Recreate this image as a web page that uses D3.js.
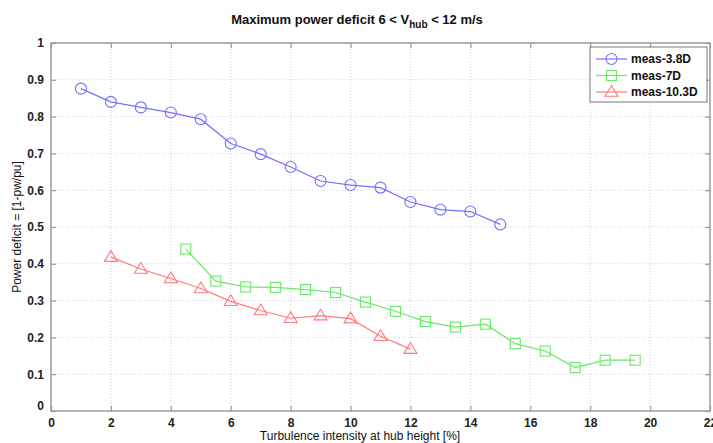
<!DOCTYPE html>
<html><head><meta charset="utf-8">
<script src="https://cdn.jsdelivr.net/npm/d3@7"></script>
<style>
body{margin:0;background:#fff;}
svg{display:block;font-family:"Liberation Sans",Arial,sans-serif;}
</style></head>
<body><svg id="c" width="713" height="443"></svg>
<script>
const xTicks = [0,2,4,6,8,10,12,14,16,18,20,22];
const yTicks = [0,0.1,0.2,0.3,0.4,0.5,0.6,0.7,0.8,0.9,1];
const yTickLabels = ["0","0.1","0.2","0.3","0.4","0.5","0.6","0.7","0.8","0.9","1"];

const x38 = [1,2,3,4,5,6,7,8,9,10,11,12,13,14,15];
const y38 = [0.876,0.840,0.825,0.811,0.793,0.727,0.698,0.663,0.625,0.614,0.607,0.568,0.547,0.542,0.507];

const x7 = [4.5,5.5,6.5,7.5,8.5,9.5,10.5,11.5,12.5,13.5,14.5,15.5,16.5,17.5,18.5,19.5];
const y7 = [0.440,0.353,0.337,0.336,0.330,0.322,0.296,0.271,0.243,0.228,0.236,0.183,0.163,0.118,0.138,0.138];

const x103 = [2,3,4,5,6,7,8,9,10,11,12];
const y103 = [0.418,0.386,0.360,0.333,0.298,0.273,0.252,0.259,0.251,0.203,0.168];

const seriesNames = ["meas-3.8D","meas-7D","meas-10.3D"];
const colors = ["#7070ff","#6ae86a","#ff7a7a"];
const markers = ["circle","square","triangle"];

const svg = d3.select("#c");
const L=51, R=710, T=43, B=411;
const x = d3.scaleLinear().domain([0,22]).range([L,R]);
const y = d3.scaleLinear().domain([0,1]).range([B,T]);

// grid
const g = svg.append("g");
g.selectAll(".gx").data(xTicks.slice(1,-1)).join("line")
  .attr("x1",d=>x(d)).attr("x2",d=>x(d)).attr("y1",T).attr("y2",B)
  .attr("stroke","#d0d0d0").attr("stroke-width",1).attr("stroke-dasharray","1,2");
g.selectAll(".gy").data(yTicks.slice(1,-1)).join("line")
  .attr("y1",d=>y(d)).attr("y2",d=>y(d)).attr("x1",L).attr("x2",R)
  .attr("stroke","#d0d0d0").attr("stroke-width",1).attr("stroke-dasharray","1,2");

// box
svg.append("rect").attr("x",L).attr("y",T).attr("width",R-L).attr("height",B-T)
  .attr("fill","none").attr("stroke","#9a9a9a").attr("stroke-width",1.5);

// axes with inward ticks
const xa = svg.append("g").attr("transform",`translate(0,${B})`)
  .call(d3.axisBottom(x).tickValues(xTicks).tickSizeInner(-5).tickSizeOuter(0).tickPadding(7).tickFormat(d3.format("d")));
const xt = svg.append("g").attr("transform",`translate(0,${T})`)
  .call(d3.axisTop(x).tickValues(xTicks).tickSizeInner(-5).tickSizeOuter(0).tickFormat(""));
const ya = svg.append("g").attr("transform",`translate(${L},0)`)
  .call(d3.axisLeft(y).tickValues(yTicks).tickSizeInner(-5).tickSizeOuter(0).tickPadding(7).tickFormat((d,i)=>yTickLabels[i]));
const yr = svg.append("g").attr("transform",`translate(${R},0)`)
  .call(d3.axisRight(y).tickValues(yTicks).tickSizeInner(-5).tickSizeOuter(0).tickFormat(""));
[xa,xt,ya,yr].forEach(a=>{
  a.select(".domain").remove();
  a.selectAll(".tick line").attr("stroke","#9a9a9a").attr("stroke-width",1.2);
  a.selectAll("text").attr("fill","#222").style("font-size","12px").style("font-weight","bold").style("font-family","'Liberation Sans',Arial,sans-serif");
});
ya.selectAll(".tick text").attr("dy","0.32em");
// nudge: y "0" label slightly up, x "0" label
ya.selectAll(".tick").filter(d=>d===0).select("text").attr("dy","-0.1em");

// series
const data = [
  {xs:x38, ys:y38},
  {xs:x7, ys:y7},
  {xs:x103, ys:y103}
];
const line = d3.line().x(d=>x(d[0])).y(d=>y(d[1]));
function drawMarker(sel, type, color, cx, cy){
  if(type==="circle"){
    sel.append("circle").attr("cx",cx).attr("cy",cy).attr("r",5.5).attr("fill","none").attr("stroke",color).attr("stroke-width",1.1);
  } else if(type==="square"){
    sel.append("rect").attr("x",cx-5).attr("y",cy-5).attr("width",10).attr("height",10).attr("fill","none").attr("stroke",color).attr("stroke-width",1.1);
  } else {
    const s=6.5;
    sel.append("path").attr("d",`M${cx},${cy-s}L${cx+s},${cy+s*0.65}L${cx-s},${cy+s*0.65}Z`).attr("fill","none").attr("stroke",color).attr("stroke-width",1.1);
  }
}
data.forEach((s,i)=>{
  const pts = s.xs.map((v,j)=>[v,s.ys[j]]);
  const sg = svg.append("g");
  sg.append("path").datum(pts).attr("d",line).attr("fill","none").attr("stroke",colors[i]).attr("stroke-width",1.2);
  pts.forEach(p=>drawMarker(sg,markers[i],colors[i],x(p[0]),y(p[1])));
});

// legend
const lg = svg.append("g");
lg.append("rect").attr("x",590).attr("y",47).attr("width",117).attr("height",55)
  .attr("fill","#fff").attr("stroke","#555").attr("stroke-width",0.8);
seriesNames.forEach((n,i)=>{
  const ly = 59 + i*16.5;
  lg.append("line").attr("x1",596).attr("x2",627).attr("y1",ly).attr("y2",ly).attr("stroke",colors[i]).attr("stroke-width",1.2);
  drawMarker(lg,markers[i],colors[i],611.5,ly);
  lg.append("text").attr("x",631).attr("y",ly).attr("dy","0.35em").text(n)
    .style("font-size","12px").style("font-weight","bold").attr("fill","#111");
});

// title
const title = svg.append("text").attr("x",357).attr("y",24).attr("text-anchor","middle")
  .style("font-size","13px").style("font-weight","bold").attr("fill","#111");
title.append("tspan").text("Maximum power deficit 6 < V");
title.append("tspan").attr("dy",4).style("font-size","10px").text("hub");
title.append("tspan").attr("dy",-4).text(" < 12 m/s");

// axis labels
svg.append("text").attr("x",360).attr("y",440).attr("text-anchor","middle")
  .style("font-size","12px").attr("fill","#111").text("Turbulence intensity at hub height [%]");
svg.append("text").attr("transform","translate(21,227) rotate(-90)").attr("text-anchor","middle")
  .style("font-size","12px").attr("fill","#111").text("Power deficit = [1-pw/pu]");
</script></body></html>
